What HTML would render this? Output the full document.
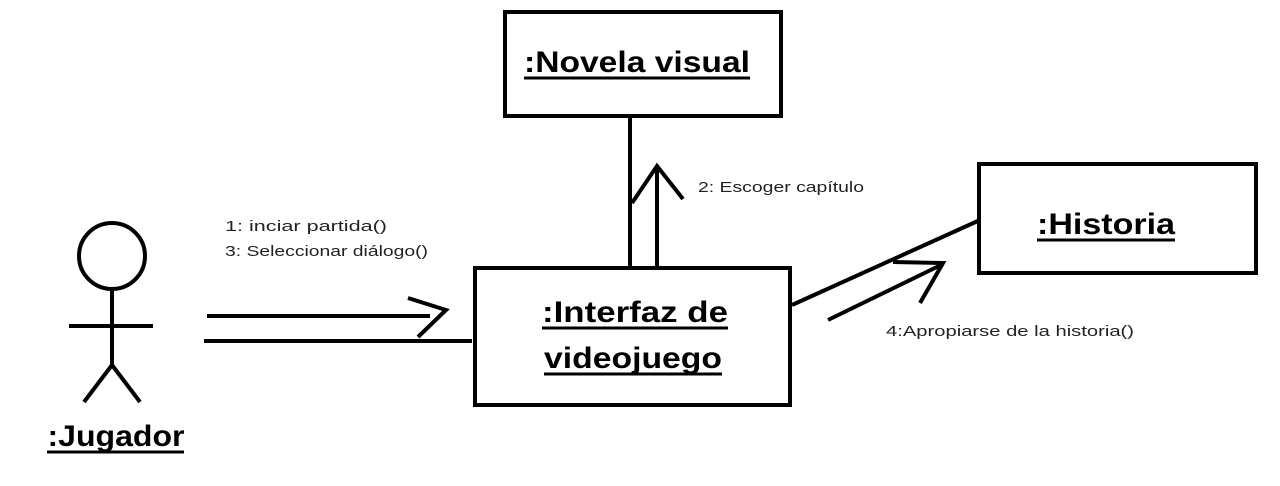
<!DOCTYPE html>
<html><head><meta charset="utf-8"><style>
html,body{margin:0;padding:0;background:#fff;width:1280px;height:486px;overflow:hidden}
</style></head><body>
<svg width="1280" height="486" viewBox="0 0 1280 486" xmlns="http://www.w3.org/2000/svg" font-family="Liberation Sans, sans-serif">
<g fill="none" stroke="#000" stroke-width="4" stroke-linecap="butt">
<rect x="505" y="12" width="276" height="104"/>
<rect x="475" y="268" width="315" height="137"/>
<rect x="979" y="164" width="277" height="109"/>
<circle cx="112" cy="256" r="33"/>
<line x1="112" y1="289" x2="112" y2="365"/>
<line x1="69" y1="326" x2="153" y2="326"/>
<line x1="112" y1="365" x2="84" y2="402"/>
<line x1="112" y1="365" x2="140" y2="402"/>
<line x1="207" y1="316" x2="430" y2="316"/>
<polyline points="408,298 446,310 418,337"/>
<line x1="204" y1="341" x2="472" y2="341"/>
<line x1="630" y1="116" x2="630" y2="266"/>
<line x1="657" y1="166" x2="657" y2="266"/>
<polyline points="632,203 657,166 683,199"/>
<line x1="792" y1="305" x2="980" y2="220"/>
<line x1="828" y1="320" x2="943" y2="264"/>
<polyline points="893,262 943,263 920,303"/>
</g>
<g font-weight="bold" font-size="30" fill="#000" text-anchor="middle">
<text x="637" y="72" textLength="226" lengthAdjust="spacingAndGlyphs">:Novela visual</text>
<text x="1106" y="234" textLength="138" lengthAdjust="spacingAndGlyphs">:Historia</text>
<text x="635" y="322" textLength="186" lengthAdjust="spacingAndGlyphs">:Interfaz de</text>
<text x="633" y="368" textLength="178" lengthAdjust="spacingAndGlyphs">videojuego</text>
<text x="116" y="446" textLength="137" lengthAdjust="spacingAndGlyphs">:Jugador</text>
</g>
<g stroke="#000" stroke-width="3">
<line x1="524" y1="78" x2="750" y2="78"/>
<line x1="1037" y1="240" x2="1175" y2="240"/>
<line x1="542" y1="328" x2="728" y2="328"/>
<line x1="544" y1="374" x2="722" y2="374"/>
<line x1="47" y1="452" x2="184" y2="452"/>
</g>
<g font-size="15" fill="#222">
<text x="698" y="192" textLength="166" lengthAdjust="spacingAndGlyphs">2: Escoger capítulo</text>
<text x="225" y="231" textLength="162" lengthAdjust="spacingAndGlyphs">1: inciar partida()</text>
<text x="225" y="256" textLength="203" lengthAdjust="spacingAndGlyphs">3: Seleccionar diálogo()</text>
<text x="886" y="336" textLength="248" lengthAdjust="spacingAndGlyphs">4:Apropiarse de la historia()</text>
</g>
</svg>
</body></html>
